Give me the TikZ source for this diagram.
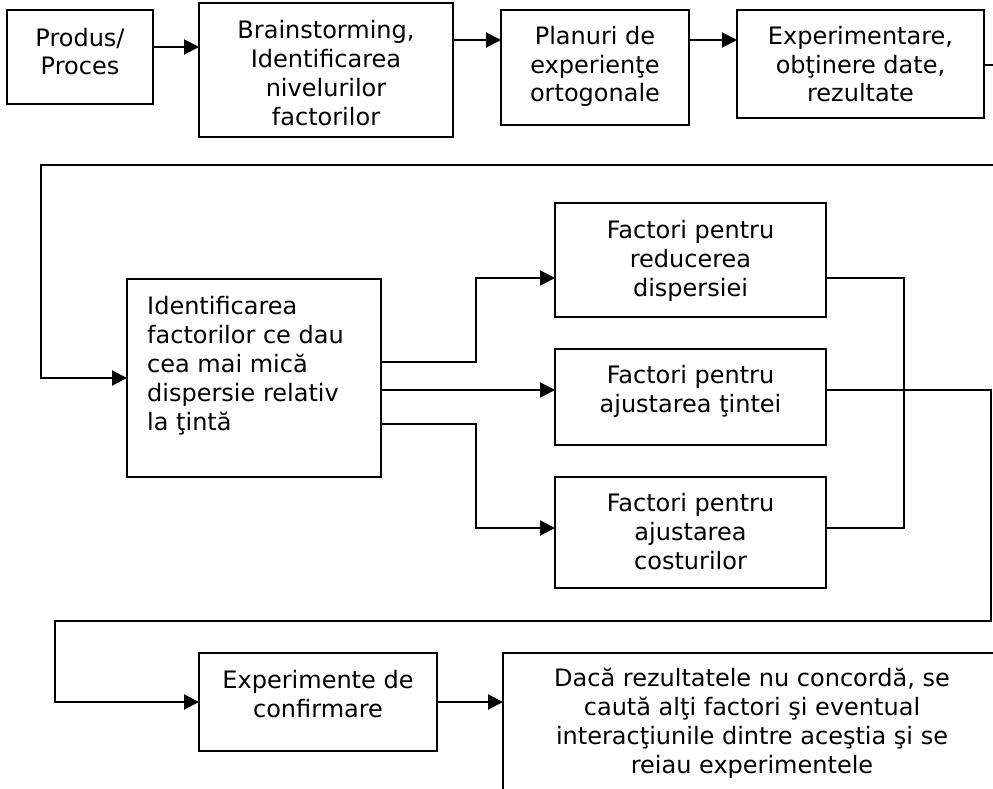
\documentclass[tikz,border=0pt]{standalone}
\usepackage{fontspec}
\setmainfont{DejaVu Sans}
\usetikzlibrary{arrows.meta,calc}
\tikzset{
  box/.style={draw, line width=2pt, inner sep=0pt, outer sep=0pt},
  txt/.style={inner sep=0pt, align=center, anchor=base, font=\fontsize{24}{28.8}\selectfont},
  txtl/.style={inner sep=0pt, align=left, anchor=base west, font=\fontsize{24}{29}\selectfont},
  link/.style={line width=2pt},
  arr/.style={line width=2pt, -{Triangle[length=15pt,width=15pt]}}
}
\begin{document}
\begin{tikzpicture}[x=1pt,y=-1pt]
\useasboundingbox (0,0) rectangle (993,789);
\clip (0,0) rectangle (993,789);
% boxes
\node[box, minimum width=146pt, minimum height=94pt] (b1) at (80,57) {};
\node[box, minimum width=254pt, minimum height=134pt] (b2) at (326,70) {};
\node[box, minimum width=188pt, minimum height=115pt] (b3) at (595,67.5) {};
\node[box, minimum width=247pt, minimum height=108pt] (b4) at (860.5,64) {};
\node[box, minimum width=254pt, minimum height=198pt] (b5) at (254,378) {};
\node[box, minimum width=271pt, minimum height=114pt] (b6) at (690.5,260) {};
\node[box, minimum width=271pt, minimum height=96pt] (b7) at (690.5,397) {};
\node[box, minimum width=271pt, minimum height=111pt] (b8) at (690.5,532.5) {};
\node[box, minimum width=238pt, minimum height=98pt] (b9) at (318,702) {};
\node[box, minimum width=498pt, minimum height=160pt] (b10) at (752,733) {};
% texts (anchor = baseline of the last line)
\node[txt] (t1) at (80,75) {Produs/\\Proces};
\node[txt] (t2) at (326,125) {Brainstorming,\\Identificarea\\nivelurilor\\factorilor};
\node[txt] (t3) at (595,102) {Planuri de\\experienţe\\ortogonale};
\node[txt] (t4) at (860.5,102) {Experimentare,\\obţinere date,\\rezultate};
\node[txtl] (t5) at (147,430) {Identificarea\\factorilor ce dau\\cea mai mică\\dispersie relativ\\la ţintă};
\node[txt] (t6) at (690.5,296) {Factori pentru\\reducerea\\dispersiei};
\node[txt] (t7) at (690.5,412) {Factori pentru\\ajustarea ţintei};
\node[txt] (t8) at (690.5,569) {Factori pentru\\ajustarea\\costurilor};
\node[txt] (t9) at (318,717) {Experimente de\\confirmare};
\node[txt] (t10) at (752,773) {Dacă rezultatele nu concordă, se\\caută alţi factori şi eventual\\interacţiunile dintre aceştia şi se\\reiau experimentele};
% route coordinates
\coordinate (k1) at (1010,65);
\coordinate (k2) at (1010,165);
\coordinate (k3) at (41,165);
\coordinate (m1) at (476,362);
\coordinate (m2) at (476,424);
\coordinate (j1) at (904,278);
\coordinate (j2) at (904,528);
\coordinate (r1) at (991,390);
\coordinate (r2) at (991,621);
\coordinate (r3) at (55,621);
% connectors
\draw[arr] (b1.east |- 0,47) -- (b2.west |- 0,47);
\draw[arr] (b2.east |- 0,40) -- (b3.west |- 0,40);
\draw[arr] (b3.east |- 0,40) -- (b4.west |- 0,40);
\draw[arr] (b4.east |- k1) -- (k1) -- (k2) -- (k3) -- (k3 |- b5.west) -- (b5.west);
\draw[arr] (b5.east |- m1) -- (m1) -- (m1 |- j1) -- (b6.west |- j1);
\draw[arr] (b5.east |- r1) -- (b7.west |- r1);
\draw[arr] (b5.east |- m2) -- (m2) -- (m2 |- j2) -- (b8.west |- j2);
\draw[link] (b6.east |- j1) -- (j1) -- (j2) -- (b8.east |- j2);
\draw[arr] (b7.east |- r1) -- (r1) -- (r2) -- (r3) -- (r3 |- b9.west) -- (b9.west);
\draw[arr] (b9.east) -- (b10.west |- b9.east);
\end{tikzpicture}
\end{document}
